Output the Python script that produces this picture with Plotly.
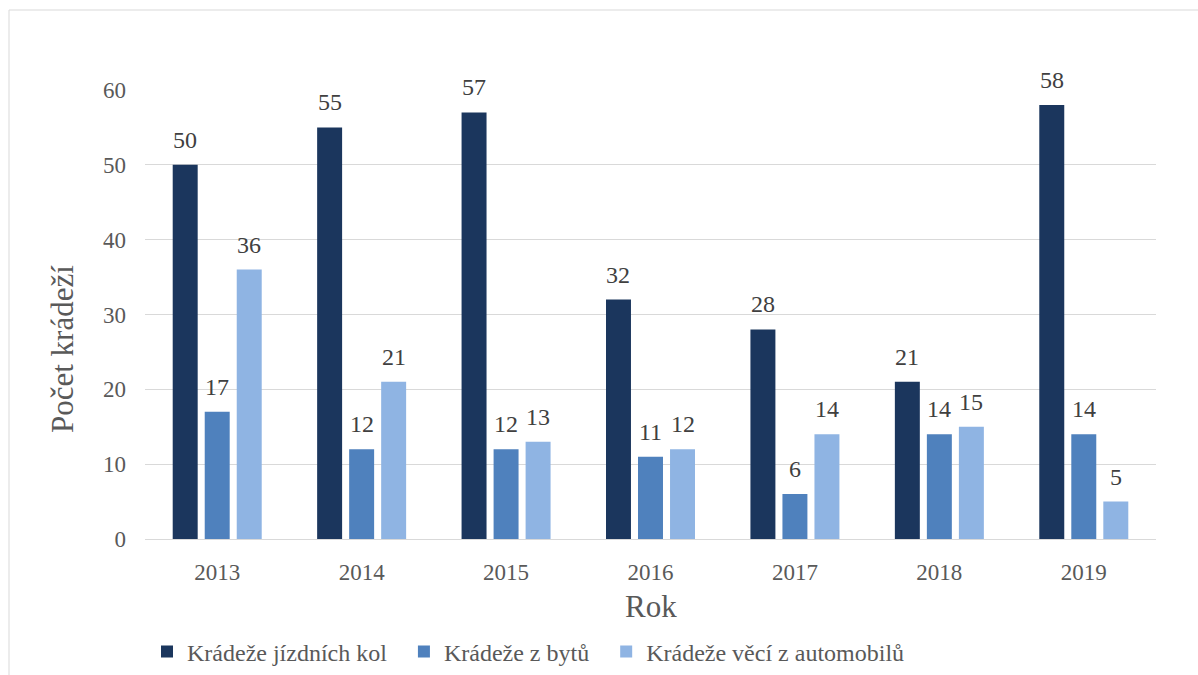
import plotly.graph_objects as go

years = ["2013", "2014", "2015", "2016", "2017", "2018", "2019"]
kola = [50, 55, 57, 32, 28, 21, 58]
byty = [17, 12, 12, 11, 6, 14, 14]
auta = [36, 21, 13, 12, 14, 15, 5]
series_names = ["Krádeže jízdních kol", "Krádeže z bytů", "Krádeže věcí z automobilů"]
colors = ["#1b365d", "#4f81bd", "#8fb4e3"]

FONT = "Times New Roman, Liberation Serif, serif"
fig = go.Figure()
L, R, T, B = 145, 42, 90, 136
W, H = 1198, 675
pw, ph = W - L - R, H - T - B
cat_w = pw / len(years)
bargap, bargroupgap = 0.335, 0.22
slot = cat_w * (1 - bargap) / 3

for k, (name, vals, col) in enumerate(zip(series_names, [kola, byty, auta], colors)):
    fig.add_trace(go.Bar(
        x=years, y=vals, name=name + "\u00a0\u00a0", marker_color=col, marker_line_width=0,
    ))
    for i, v in enumerate(vals):
        fig.add_annotation(x=i, y=v, text=str(v), showarrow=False, xref="x", yref="y",
                           xshift=(k - 1) * slot, yshift=10, yanchor="bottom",
                           font=dict(family=FONT, size=24, color="#404040"))

fig.update_layout(
    width=W, height=H,
    margin=dict(l=L, r=R, t=T, b=B, autoexpand=False),
    paper_bgcolor="white", plot_bgcolor="white",
    barmode="group", bargap=bargap, bargroupgap=bargroupgap,
    font=dict(family=FONT, color="#595959"),
    xaxis=dict(type="category", range=[-0.5, len(years) - 0.5], showgrid=False, showline=True,
               linecolor="#d9d9d9", linewidth=1, automargin=False, ticklabelstandoff=12,
               tickfont=dict(family=FONT, size=23, color="#595959"), ticks=""),
    yaxis=dict(range=[0, 60], dtick=10, showgrid=True, gridcolor="#d9d9d9", gridwidth=1,
               zeroline=False, showline=False, ticks="", ticklabelstandoff=18, automargin=False,
               tickfont=dict(family=FONT, size=23, color="#595959")),
    showlegend=True,
    legend=dict(orientation="h", x=(147 - L) / pw, xanchor="left", y=-(652 - 539) / ph, yanchor="middle",
                font=dict(family=FONT, size=24, color="#595959"), itemsizing="constant",
                tracegroupgap=0),
)

fig.add_annotation(text="Rok", xref="paper", yref="paper", x=0.5, y=-(606 - 539) / ph,
                   showarrow=False, font=dict(family=FONT, size=31, color="#595959"),
                   xanchor="center", yanchor="middle")
fig.add_annotation(text="Počet krádeží", xref="paper", yref="paper", x=(62 - L) / pw, y=(539 - 349) / ph,
                   showarrow=False, textangle=-90, font=dict(family=FONT, size=31, color="#595959"),
                   xanchor="center", yanchor="middle")

fig.add_shape(type="rect", xref="paper", yref="paper",
              x0=(9 - L) / pw, x1=1.2, y0=-0.5, y1=(H - 10 - B) / ph,
              line=dict(color="#d9d9d9", width=1), fillcolor="rgba(0,0,0,0)", layer="below")

fig.write_html("out.html", config={"displayModeBar": False},
               post_script="document.body.style.margin='0';document.body.style.overflow='hidden';")
